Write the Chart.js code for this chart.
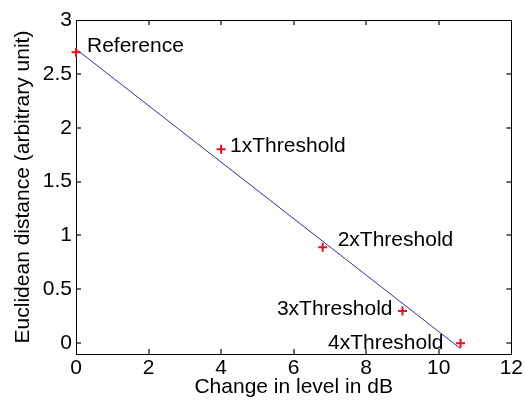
<!DOCTYPE html>
<html>
<head>
<meta charset="utf-8">
<script src="https://cdn.jsdelivr.net/npm/chart.js@4/dist/chart.umd.min.js"></script>
<style>
  html, body { margin: 0; padding: 0; background: #fff; }
  canvas { display: block; }
</style>
</head>
<body>
<canvas id="c" width="525" height="405"></canvas>
<script>
// ---- data ----
const pointNames = ['Reference', '1xThreshold', '2xThreshold', '3xThreshold', '4xThreshold'];
const pointX = [0, 4, 6.8, 9, 10.6];
const pointY = [2.7, 1.8, 0.89, 0.3, 0.0];
const fitX = [0, 10.6];
const fitY = [2.73, -0.05];
const xTickValues = [0, 2, 4, 6, 8, 10, 12];
const xTickLabels = ['0', '2', '4', '6', '8', '10', '12'];
const yTickValues = [0, 0.5, 1, 1.5, 2, 2.5, 3];
const yTickLabels = ['0', '0.5', '1', '1.5', '2', '2.5', '3'];
const xTitle = 'Change in level in dB';
const yTitle = 'Euclidean distance (arbitrary unit)';

const FONT = 'Liberation Sans, Arial, Helvetica, sans-serif';

// label placement relative to each marker: [dx, dy, align]
const labelPlacement = [
  [11, -6, 'left'],
  [9, -3, 'left'],
  [15, -7, 'left'],
  [-10, -2, 'right'],
  [-17, 0, 'right']
];

const boxPlugin = {
  id: 'matlabBox',
  beforeDatasetsDraw(chart) {
    const ctx = chart.ctx;
    const a = chart.chartArea;
    const xs = chart.scales.x, ys = chart.scales.y;
    ctx.save();
    ctx.strokeStyle = '#6a6a6a';
    ctx.lineWidth = 2;
    const tl = 5;
    ctx.beginPath();
    xTickValues.forEach(v => {
      const px = Math.round(xs.getPixelForValue(v));
      if (px <= a.left + 1 || px >= a.right - 1) return;
      ctx.moveTo(px, a.bottom); ctx.lineTo(px, a.bottom - tl);
      ctx.moveTo(px, a.top); ctx.lineTo(px, a.top + tl);
    });
    yTickValues.forEach(v => {
      const py = Math.round(ys.getPixelForValue(v));
      if (py <= a.top + 1 || py >= a.bottom - 1) return;
      ctx.moveTo(a.left, py); ctx.lineTo(a.left + tl, py);
      ctx.moveTo(a.right, py); ctx.lineTo(a.right - tl, py);
    });
    ctx.stroke();
    ctx.strokeStyle = '#000';
    ctx.lineWidth = 1;
    ctx.strokeRect(Math.round(a.left) + 0.5, Math.round(a.top) + 0.5,
                   Math.round(a.right - a.left), Math.round(a.bottom - a.top));
    ctx.restore();
  },
  afterDraw(chart) {
    const ctx = chart.ctx;
    const xs = chart.scales.x, ys = chart.scales.y;
    ctx.save();
    ctx.fillStyle = '#000';
    ctx.font = '21px ' + FONT;
    ctx.textBaseline = 'middle';
    pointNames.forEach((name, i) => {
      const px = xs.getPixelForValue(pointX[i]);
      const py = ys.getPixelForValue(pointY[i]);
      const p = labelPlacement[i];
      ctx.textAlign = p[2];
      ctx.fillText(name, px + p[0], py + p[1]);
    });
    ctx.restore();
  }
};

new Chart(document.getElementById('c'), {
  type: 'scatter',
  data: {
    datasets: [
      {
        label: 'fit',
        data: fitX.map((x, i) => ({ x: x, y: fitY[i] })),
        showLine: true,
        borderColor: '#30309a',
        borderWidth: 1,
        pointRadius: 0,
        fill: false,
        clip: false,
        order: 2
      },
      {
        label: 'points',
        data: pointX.map((x, i) => ({ x: x, y: pointY[i] })),
        showLine: false,
        pointStyle: 'cross',
        pointRadius: 4.5,
        borderColor: '#e8101a',
        backgroundColor: '#e8101a',
        pointBorderWidth: 2,
        clip: false,
        order: 1
      }
    ]
  },
  options: {
    responsive: false,
    animation: false,
    devicePixelRatio: 1,
    layout: { padding: { left: 0, right: 13, top: 20, bottom: 0 } },
    plugins: { legend: { display: false }, tooltip: { enabled: false } },
    scales: {
      x: {
        type: 'linear',
        min: 0, max: 12,
        afterBuildTicks: s => { s.ticks = xTickValues.map(v => ({ value: v })); },
        afterFit: s => { s.height = 51; },
        grid: { display: false, drawTicks: false },
        border: { display: false },
        ticks: {
          color: '#000',
          font: { family: FONT, size: 21 },
          padding: 2,
          maxRotation: 0,
          autoSkip: false,
          callback: (v, i) => xTickLabels[i]
        },
        title: {
          display: true,
          text: xTitle,
          color: '#000',
          font: { family: FONT, size: 21 },
          padding: { top: 0, bottom: 4.7 }
        }
      },
      y: {
        type: 'linear',
        min: -0.1, max: 3,
        afterBuildTicks: s => { s.ticks = yTickValues.map(v => ({ value: v })); },
        afterFit: s => { s.width = 76; },
        grid: { display: false, drawTicks: false },
        border: { display: false },
        ticks: {
          color: '#000',
          font: { family: FONT, size: 21 },
          padding: 4,
          autoSkip: false,
          callback: (v, i) => yTickLabels[i]
        },
        title: {
          display: true,
          text: yTitle,
          color: '#000',
          font: { family: FONT, size: 21 },
          padding: { top: 10.7, bottom: 0 }
        }
      }
    }
  },
  plugins: [boxPlugin]
});
</script>
</body>
</html>
